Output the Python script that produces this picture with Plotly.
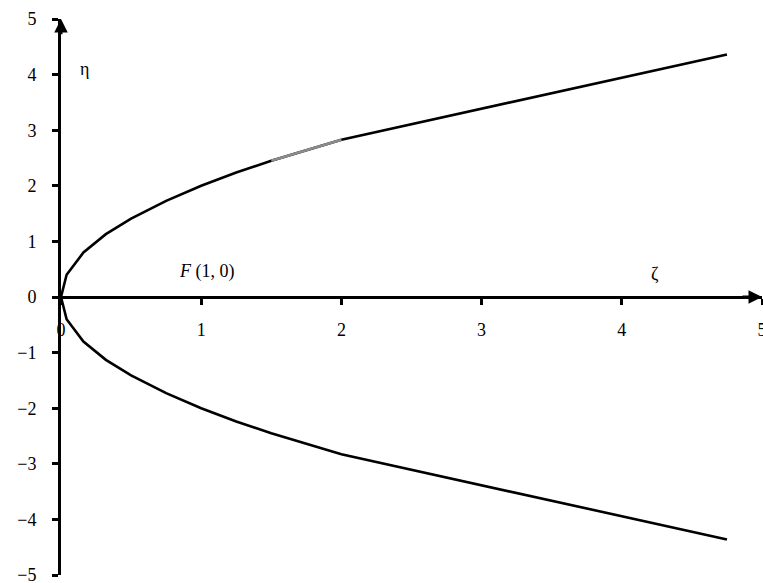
import plotly.graph_objects as go

# Parabola eta^2 = 4*zeta, sampled points (upper and lower branches)
zeta = [0, 0.04, 0.16, 0.32, 0.5, 0.75, 1.0, 1.25, 1.5, 2.0, 4.75]
eta_upper = [0, 0.40, 0.80, 1.13, 1.41, 1.73, 2.00, 2.24, 2.45, 2.83, 4.36]
eta_lower = [0, -0.40, -0.80, -1.13, -1.41, -1.73, -2.00, -2.24, -2.45, -2.83, -4.36]

# Highlighted chord on the upper branch
seg_zeta = [1.5, 2.0]
seg_eta = [2.45, 2.83]

x_ticks = [0, 1, 2, 3, 4, 5]
y_ticks = [-5, -4, -3, -2, -1, 0, 1, 2, 3, 4, 5]

FONT = "Liberation Serif"
TICKFONT = dict(family=FONT, size=18, color="black")

fig = go.Figure()
fig.add_trace(go.Scatter(x=zeta, y=eta_upper, mode="lines",
                         line=dict(color="black", width=2.6), hoverinfo="skip"))
fig.add_trace(go.Scatter(x=zeta, y=eta_lower, mode="lines",
                         line=dict(color="black", width=2.6), hoverinfo="skip"))
fig.add_trace(go.Scatter(x=seg_zeta, y=seg_eta, mode="lines",
                         line=dict(color="#8c8c8c", width=2.6), hoverinfo="skip"))

fig.update_layout(
    width=763, height=583,
    margin=dict(l=61, r=1, t=19, b=8),
    paper_bgcolor="white", plot_bgcolor="white",
    showlegend=False,
    font=dict(family=FONT, size=18, color="black"),
    xaxis=dict(
        range=[0, 5], tickvals=x_ticks, ticktext=[str(v) for v in x_ticks],
        anchor="free", position=0.5,
        showline=True, linecolor="black", linewidth=3,
        ticks="outside", ticklen=6, tickwidth=3, tickcolor="black",
        tickfont=TICKFONT, ticklabelstandoff=9, ticklabeloverflow="allow",
        showgrid=False, zeroline=False, automargin=False,
    ),
    yaxis=dict(
        range=[-5, 5], tickvals=y_ticks,
        showline=True, linecolor="black", linewidth=3,
        ticks="outside", ticklen=6, tickwidth=3, tickcolor="black",
        tickfont=TICKFONT, ticklabelstandoff=12, ticklabeloverflow="allow",
        showgrid=False, zeroline=False, automargin=False,
    ),
)

# Arrowheads at the ends of both axes
fig.add_annotation(x=5, y=0, ax=4.85, ay=0, xref="x", yref="y", axref="x", ayref="y",
                   showarrow=True, arrowhead=2, arrowsize=0.9, arrowwidth=3,
                   arrowcolor="black", standoff=0, text="")
fig.add_annotation(x=0, y=5, ax=0, ay=4.7, xref="x", yref="y", axref="x", ayref="y",
                   showarrow=True, arrowhead=2, arrowsize=0.9, arrowwidth=3,
                   arrowcolor="black", standoff=0, text="")

# Axis names and focus label
fig.add_annotation(x=0.17, y=4.1, text="η", showarrow=False,
                   font=dict(family=FONT, size=18))
fig.add_annotation(x=1.04, y=0.45, text="<i>F</i> (1, 0)", showarrow=False,
                   font=dict(family=FONT, size=18))
fig.add_annotation(x=4.24, y=0.42, text="ζ", showarrow=False,
                   font=dict(family=FONT, size=18))

fig.write_html("out.html")
